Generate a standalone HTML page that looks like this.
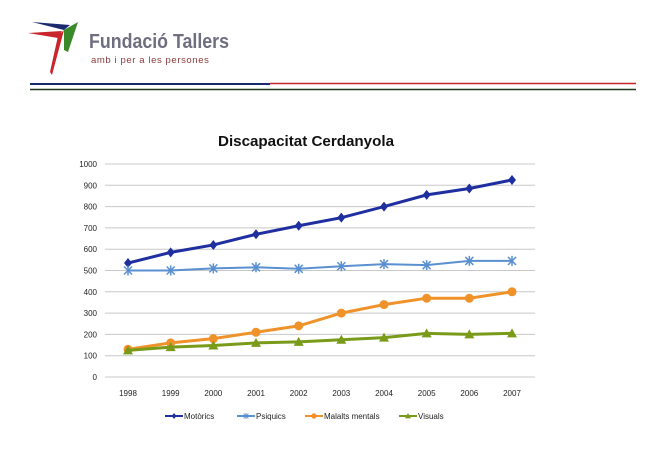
<!DOCTYPE html>
<html><head><meta charset="utf-8"><style>
body{margin:0;width:650px;height:458px;background:#fff;overflow:hidden;font-family:"Liberation Sans",sans-serif;}
</style></head><body>
<svg width="650" height="458" xmlns="http://www.w3.org/2000/svg">
<g>
<polygon points="32,22 70,25 64,30" fill="#1a2a6e"/>
<polygon points="28,33 62,31 58,38" fill="#c8262a"/>
<polygon points="58,36 64,30 52,75 50,72" fill="#c8262a"/>
<polygon points="64,30 78,22 68,52 64,50" fill="#3a8a2a"/>
<text x="89" y="48" font-size="20" fill="#6e6e80" font-weight="bold" textLength="140" lengthAdjust="spacingAndGlyphs">Fundació Tallers</text>
<text x="91" y="63" font-size="9.5" fill="#8a3a3a" letter-spacing="0.6">amb i per a les persones</text>
</g>
<line x1="30" y1="84" x2="270" y2="84" stroke="#1a2a6e" stroke-width="2"/>
<line x1="270" y1="83.5" x2="636" y2="83.5" stroke="#c8262a" stroke-width="1.5"/>
<line x1="30" y1="89.5" x2="636" y2="89.5" stroke="#1f3a1a" stroke-width="1.6"/>
<text x="306" y="146" font-size="14.5" font-weight="bold" text-anchor="middle" fill="#111" textLength="176" lengthAdjust="spacingAndGlyphs">Discapacitat Cerdanyola</text>
<g id="chart"></g>
</svg>
<script>
const years=["1998","1999","2000","2001","2002","2003","2004","2005","2006","2007"];
const yTicks=[0,100,200,300,400,500,600,700,800,900,1000];
const motorics=[535,585,620,670,710,748,800,855,885,925];
const psiquics=[500,500,510,515,508,520,530,525,545,545];
const malalts=[130,160,180,210,240,300,340,370,370,400];
const visuals=[125,140,148,160,165,175,185,205,200,205];
const NS="http://www.w3.org/2000/svg";
const g=document.getElementById('chart');
const X=i=>128+i*(384/9);
const Y=v=>377-v*0.213;
function el(t,a){const e=document.createElementNS(NS,t);for(const k in a)e.setAttribute(k,a[k]);g.appendChild(e);return e;}
yTicks.forEach(v=>{
 const l=el('line',{x1:105,x2:535,y1:Y(v),y2:Y(v),stroke:'#c8c8c8','stroke-width':1});
 
 
 const t=el('text',{x:97,y:Y(v)+3,'font-size':8,'text-anchor':'end',fill:'#222'});
 t.textContent=v;
 
 
});
years.forEach((y,i)=>{
 const t=el('text',{x:X(i),y:396,'font-size':8,'text-anchor':'middle',fill:'#222'});
 t.textContent=y;
 
 
});
function marker(type,x,y,c){
 let m;
 if(type==='diamond')m=el('polygon',{points:`${x},${y-5} ${x+4},${y} ${x},${y+5} ${x-4},${y}`,fill:c});
 else if(type==='circle')m=el('circle',{cx:x,cy:y,r:4.5,fill:c});
 else if(type==='tri')m=el('polygon',{points:`${x},${y-5} ${x+5},${y+4} ${x-5},${y+4}`,fill:c});
 else m=el('path',{d:`M${x-4},${y-4}L${x+4},${y+4}M${x-4},${y+4}L${x+4},${y-4}M${x},${y-5}L${x},${y+5}`,stroke:c,'stroke-width':1.5});
 return m;
}
const series=[[motorics,'#1f2fa0','diamond','motorics'],[psiquics,'#5a90d0','star','psiquics'],[malalts,'#f0922a','circle','malalts-mentals'],[visuals,'#7a9a1a','tri','visuals']];
series.forEach(([d,c,m,n])=>{
 const p=el('polyline',{points:d.map((v,i)=>X(i)+','+Y(v)).join(' '),fill:'none',stroke:c,'stroke-width':n==='psiquics'?2:3});
 
 
 d.forEach((v,i)=>{
  const mk=marker(m,X(i),Y(v),c);
  
  
 });
});
const legend=[['Motòrics',165],['Psiquics',237],['Malalts mentals',305],['Visuals',399]];
legend.forEach(([t,x],i)=>{
 const c=series[i][1];
 const l=el('line',{x1:x,x2:x+18,y1:416,y2:416,stroke:c,'stroke-width':2});
 
 
 const mk=marker(series[i][2],x+9,416,c);
 mk.setAttribute('transform',`translate(${x+9},416) scale(0.6) translate(${-(x+9)},-416)`);
 
 
 const tx=el('text',{x:x+19,y:419,'font-size':8,fill:'#222'});
 tx.textContent=t;
 
 
});
</script>
</body></html>
